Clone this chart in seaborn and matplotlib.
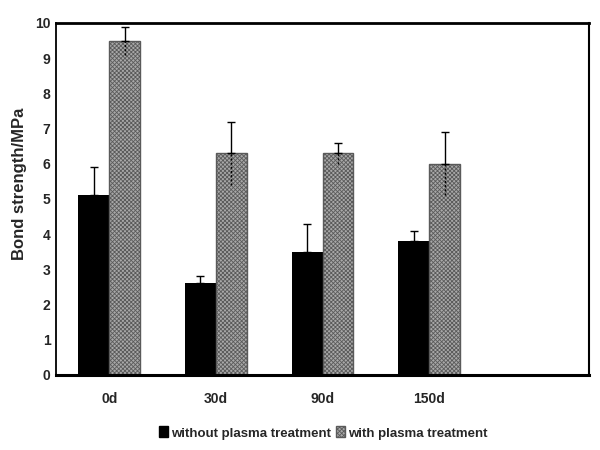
import numpy as np
import pandas as pd
import matplotlib
matplotlib.use("Agg")
import matplotlib.pyplot as plt
import seaborn as sns
from matplotlib.ticker import MultipleLocator, FixedLocator
from matplotlib.patches import Patch

categories = ["0d", "30d", "90d", "150d"]
series_names = ["without plasma treatment", "with plasma treatment"]
without_vals = [5.1, 2.6, 3.5, 3.8]
without_err = [0.8, 0.2, 0.8, 0.3]
with_vals = [9.5, 6.3, 6.3, 6.0]
with_err = [0.4, 0.9, 0.3, 0.9]
y_ticks = list(range(0, 11))

sns.set_theme(style="white")
plt.rcParams["font.family"] = ["Liberation Sans", "DejaVu Sans"]
plt.rcParams["font.weight"] = "bold"
plt.rcParams["hatch.linewidth"] = 0.6

HATCH_FACE = "#a8a8a8"
HATCH_EDGE = "#5a5a5a"
HATCH = "xxxxxxxx"

df = pd.DataFrame({
    "day": categories * 2,
    "treatment": [series_names[0]] * 4 + [series_names[1]] * 4,
    "value": without_vals + with_vals,
})

fig = plt.figure(figsize=(6, 4.5), dpi=100)
ax = fig.add_axes([56 / 600, 1 - 375 / 450, 533 / 600, 352 / 450])

sns.barplot(data=df, x="day", y="value", hue="treatment", order=categories,
            hue_order=series_names, palette=["black", "white"], width=0.58,
            dodge=True, errorbar=None, legend=False, ax=ax, saturation=1)

for i, p in enumerate(ax.patches[:8]):
    if i >= 4:
        p.set_facecolor(HATCH_FACE)
        p.set_hatch(HATCH)
        p.set_edgecolor(HATCH_EDGE)
        p.set_linewidth(1.0)
    else:
        p.set_edgecolor("black")
        p.set_linewidth(0)
    p.set_zorder(2)

vals = without_vals + with_vals
errs = without_err + with_err
for p, v, e in zip(ax.patches[:8], vals, errs):
    xc = p.get_x() + p.get_width() / 2
    ax.errorbar([xc], [v], yerr=[[0], [e]], fmt="none", ecolor="black",
                elinewidth=1.0, capsize=3, capthick=1.0, zorder=3)
    ax.vlines([xc], v - e, v, colors="black", linestyles=(0, (1.5, 1.5)),
              linewidth=1.0, zorder=3)

ax.set_xlim(-0.5, 4.5)
ax.set_ylim(0, 10)
ax.set_yticks(y_ticks)
ax.set_yticklabels([str(t) for t in y_ticks], fontsize=10, fontweight="bold")
ax.yaxis.set_minor_locator(MultipleLocator(0.5))
ax.set_xticks(range(len(categories)))
ax.set_xticklabels(categories, fontsize=10, fontweight="bold")
ax.xaxis.set_minor_locator(FixedLocator([0.5, 1.5, 2.5, 3.5]))
ax.tick_params(axis="y", which="both", direction="in", length=3, color="#c8c8c8", width=0.8, pad=4)
ax.tick_params(axis="x", which="major", length=0, pad=12)
ax.tick_params(axis="x", which="minor", direction="in", length=3, color="#c8c8c8", width=0.8)

ax.set_xlabel("")
ax.set_ylabel("Bond strength/MPa", fontsize=12, fontweight="bold")
ax.yaxis.set_label_coords(-0.054, 0.543)

for side, lw in [("top", 2.0), ("bottom", 2.2), ("left", 1.3), ("right", 1.5)]:
    ax.spines[side].set_visible(True)
    ax.spines[side].set_color("black")
    ax.spines[side].set_linewidth(lw)

handles = [Patch(facecolor="black", edgecolor="black"),
           Patch(facecolor=HATCH_FACE, edgecolor=HATCH_EDGE, hatch=HATCH)]
fig.legend(handles, series_names, loc="center", bbox_to_anchor=(323 / 600, 1 - 433 / 450),
           ncol=2, frameon=False, handlelength=0.7, handleheight=0.9,
           handletextpad=0.2, columnspacing=0.4, prop={"weight": "bold", "size": 9.5})

fig.savefig("out.png", dpi=100)
